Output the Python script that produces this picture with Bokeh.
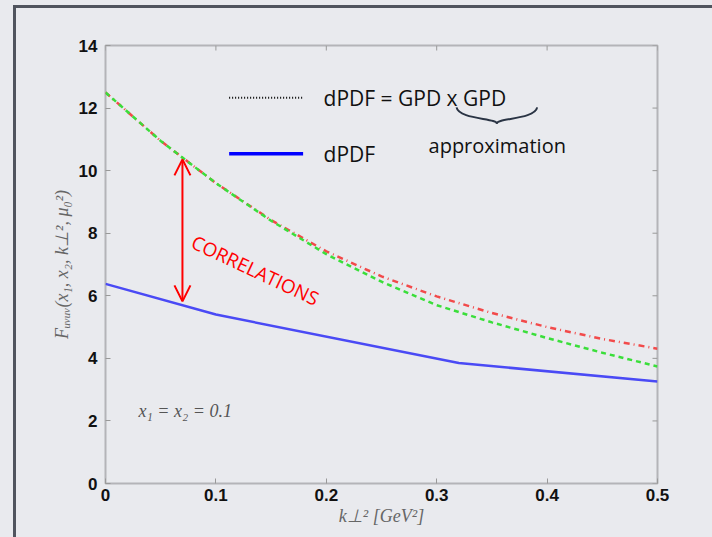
from jinja2 import Template
from bokeh.plotting import figure
from bokeh.models import (Label, Arrow, OpenHead, FixedTicker, Range1d)
from bokeh.embed import file_html
from bokeh.resources import INLINE

# ---------------- data ----------------
k2_grid = [0.0, 0.05, 0.10, 0.15, 0.20, 0.25, 0.30, 0.35, 0.40, 0.45, 0.50]
approx_red = [12.5, 10.95, 9.6, 8.42, 7.42, 6.62, 5.98, 5.45, 5.0, 4.62, 4.31]
approx_green = [12.5, 10.95, 9.6, 8.40, 7.33, 6.45, 5.70, 5.15, 4.65, 4.18, 3.74]
dpdf_k2 = [0.0, 0.10, 0.32, 0.50]
dpdf_vals = [6.38, 5.40, 3.85, 3.26]

x_ticks = [0, 0.1, 0.2, 0.3, 0.4, 0.5]
y_ticks = [0, 2, 4, 6, 8, 10, 12, 14]

BG = "#e9eaee"
FRAME = "#b4b4b8"
X0, X1, Y0, Y1 = 0.0, 0.5, 0.0, 14.0
FRAME_W, FRAME_H = 552, 438
TICK_PX = 5

p = figure(width=712, height=537, x_range=Range1d(X0, X1), y_range=Range1d(Y0, Y1),
           output_backend="svg", toolbar_location=None,
           min_border_left=105, min_border_right=55, min_border_top=45, min_border_bottom=54,
           background_fill_color=BG, border_fill_color=BG)
p.outline_line_color = FRAME
p.outline_line_width = 2
p.grid.visible = False

for ax in p.axis:
    ax.axis_line_color = None
    ax.major_tick_in = TICK_PX
    ax.major_tick_out = 0
    ax.minor_tick_line_color = None
    ax.major_tick_line_color = "#999999"
    ax.major_label_text_font = "Liberation Sans"
    ax.major_label_text_font_style = "bold"
    ax.major_label_text_font_size = "17px"
    ax.major_label_text_color = "#111111"
    ax.axis_label_text_font = "Liberation Serif"
    ax.axis_label_text_font_style = "italic"
    ax.axis_label_text_font_size = "18px"
    ax.axis_label_text_color = "#666666"

p.xaxis.ticker = FixedTicker(ticks=x_ticks)
p.yaxis.ticker = FixedTicker(ticks=y_ticks)
p.xaxis.major_label_overrides = {0: "0", 0.1: "0.1", 0.2: "0.2", 0.3: "0.3", 0.4: "0.4", 0.5: "0.5"}
p.xaxis.axis_label = "k⊥² [GeV²]"
p.yaxis.axis_label = "Fᵤᵥᵤᵥ(x₁, x₂, k⊥², μ₀²)"
p.xaxis.major_label_standoff = 5
p.yaxis.major_label_standoff = 8
p.xaxis.axis_label_standoff = 2
p.yaxis.axis_label_standoff = 4

# Matlab-style inward ticks on the top and right edges
dy = (Y1 - Y0) * TICK_PX / FRAME_H
dx = (X1 - X0) * TICK_PX / FRAME_W
p.segment(x0=x_ticks, y0=[Y1] * len(x_ticks), x1=x_ticks, y1=[Y1 - dy] * len(x_ticks),
          line_color="#999999", line_width=1)
p.segment(x0=[X1] * len(y_ticks), y0=y_ticks, x1=[X1 - dx] * len(y_ticks), y1=y_ticks,
          line_color="#999999", line_width=1)

# curves
p.line(k2_grid, approx_red, line_color="#f24a4a", line_width=2.5, line_dash="6 4 1 4")
p.line(k2_grid, approx_green, line_color="#3ade3a", line_width=2.5, line_dash="5 4")
p.line(dpdf_k2, dpdf_vals, line_color="#4a4af5", line_width=2.5)

# manual legend
p.line([0.112, 0.179], [12.33, 12.33], line_color="black", line_width=2, line_dash="1 2")
p.line([0.112, 0.179], [10.54, 10.54], line_color="#0000ff", line_width=3.5)
LEG_FONT = "Open Sans"
p.add_layout(Label(x=0.1975, y=12.33, text="dPDF = GPD x GPD", text_font=LEG_FONT,
                   text_font_size="21px", text_baseline="middle", text_color="#111111"))
p.add_layout(Label(x=0.1975, y=10.54, text="dPDF", text_font=LEG_FONT,
                   text_font_size="21px", text_baseline="middle", text_color="#111111"))
p.add_layout(Label(x=0.2926, y=10.80, text="approximation", text_font=LEG_FONT,
                   text_font_size="20px", text_baseline="middle", text_color="#111111"))

# brace under "x GPD"
bx0, bx1, bxm = 0.318, 0.391, 0.3545
by_top, by_mid, by_tip = 12.02, 11.68, 11.50
p.bezier(x0=[bx0, bxm], y0=[by_top, by_tip], x1=[bxm, bx1], y1=[by_tip, by_top],
         cx0=[bx0 + 0.002, bxm - 0.001], cy0=[by_mid - 0.05, by_mid],
         cx1=[bxm + 0.001, bx1 - 0.002], cy1=[by_mid, by_mid - 0.05],
         line_color="#2a3444", line_width=2)

# correlations arrow + label
arrow_x = 0.0697
p.add_layout(Arrow(x_start=arrow_x, y_start=5.82, x_end=arrow_x, y_end=10.36,
                   line_color="#ff0000", line_width=2,
                   start=OpenHead(size=16, line_color="#ff0000", line_width=2),
                   end=OpenHead(size=16, line_color="#ff0000", line_width=2)))
p.add_layout(Label(x=0.0790, y=7.75, text="CORRELATIONS", angle=-0.44, text_font=LEG_FONT,
                   text_font_size="19px", text_baseline="middle", text_color="#ff0000"))

p.add_layout(Label(x=0.030, y=2.33, text="x₁ = x₂ = 0.1", text_font="Liberation Serif",
                   text_font_style="italic", text_font_size="18px", text_baseline="middle",
                   text_color="#555555"))

# page: grey background plus the slide box's left and top edges (pure CSS overlay)
page_template = Template("""{% extends base %}
{% block preamble %}
<style>
html, body { margin: 0; padding: 0; overflow: hidden; background-color: #e9eaee; }
body::after { content: ""; position: fixed; left: 13px; top: 5px; right: -10px; bottom: -10px;
              border-left: 3px solid #50545e; border-top: 3px solid #50545e;
              pointer-events: none; z-index: 10; }
</style>
{% endblock %}
""")
open("out.html", "w").write(file_html(p, INLINE, template=page_template))
